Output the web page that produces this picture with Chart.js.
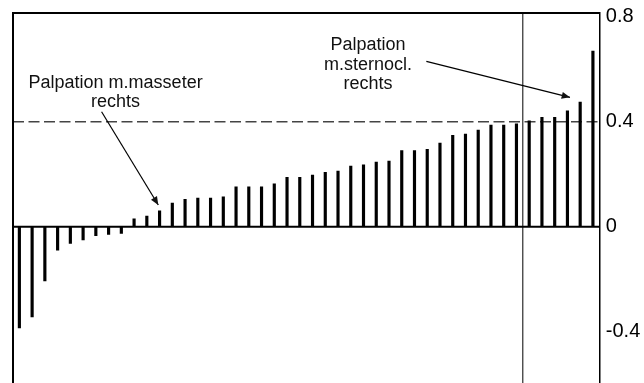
<!DOCTYPE html>
<html lang="de">
<head>
    <meta charset="UTF-8">
    <title>Korrelationen</title>
    <script src="https://cdn.jsdelivr.net/npm/chart.js"></script>
    <style>
        * { margin: 0; padding: 0; box-sizing: border-box; }
        body { background: #fff; width: 644px; height: 383px; overflow: hidden; }
        #wrap { position: relative; width: 644px; height: 383px; }
    </style>
</head>
<body>
    <div id="wrap"><canvas id="chart"></canvas></div>

    <script>
        // sorted values
        const values = [
            -0.385, -0.343, -0.206, -0.089, -0.063, -0.050, -0.034, -0.029, -0.025,
            0.030, 0.041, 0.061, 0.090, 0.104, 0.109, 0.109, 0.114, 0.152, 0.152, 0.152, 0.163,
            0.188, 0.188, 0.197, 0.207, 0.212, 0.231, 0.236, 0.246, 0.250, 0.290, 0.290, 0.295,
            0.319, 0.348, 0.353, 0.368, 0.387, 0.387, 0.392, 0.403, 0.417, 0.417, 0.441, 0.475, 0.669
        ];
        const categories = values.map((v, i) => String(i + 1));
        const yTicks = [-0.4, 0, 0.4, 0.8];
        const yMin = -0.595;
        const yMax = 0.814;
        const threshold = 0.4;       // dashed line
        const splitAfter = 40;       // vertical line after this many items

        // annotations: text lines, anchor (category index, value), arrow from/to
        const notes = [
            { lines: ["Palpation m.masseter", "rechts"], x: 7.55, y: 0.530,
              from: [6.45, 0.438], to: [10.9, 0.083] },
            { lines: ["Palpation", "m.sternocl.", "rechts"], x: 27.35, y: 0.672,
              from: [31.93, 0.630], to: [43.2, 0.493] }
        ];

        const overlay = {
            id: "overlay",
            beforeDatasetsDraw(chart) {
                const { ctx, chartArea: a, scales: { x, y } } = chart;
                ctx.save();
                // dashed threshold line
                ctx.strokeStyle = "#444";
                ctx.lineWidth = 1.5;
                ctx.setLineDash([11, 4.5]);
                ctx.beginPath();
                ctx.moveTo(a.left, y.getPixelForValue(threshold));
                ctx.lineTo(a.right, y.getPixelForValue(threshold));
                ctx.stroke();
                ctx.setLineDash([]);
                // vertical split line
                const xs = (x.getPixelForValue(splitAfter - 1) + x.getPixelForValue(splitAfter)) / 2;
                ctx.strokeStyle = "#000";
                ctx.lineWidth = 1;
                ctx.beginPath();
                ctx.moveTo(xs, a.top);
                ctx.lineTo(xs, a.bottom);
                ctx.stroke();
                ctx.restore();
            },
            afterDatasetsDraw(chart) {
                const { ctx, chartArea: a, scales: { x, y } } = chart;
                ctx.save();
                ctx.strokeStyle = "#000";
                // zero line
                ctx.lineWidth = 2;
                ctx.beginPath();
                ctx.moveTo(a.left, y.getPixelForValue(0));
                ctx.lineTo(a.right, y.getPixelForValue(0));
                ctx.stroke();
                // frame: left + top
                ctx.beginPath();
                ctx.moveTo(a.left, a.bottom + 5);
                ctx.lineTo(a.left, a.top);
                ctx.lineTo(a.right, a.top);
                ctx.stroke();

                // annotations
                ctx.fillStyle = "#111";
                ctx.font = "18px 'Liberation Sans', Arial, sans-serif";
                ctx.textAlign = "center";
                ctx.textBaseline = "alphabetic";
                const x0 = x.getPixelForValue(0);
                const step = x.getPixelForValue(1) - x0;
                notes.forEach(n => {
                    const px = x0 + n.x * step;
                    const py = y.getPixelForValue(n.y);
                    n.lines.forEach((t, i) => ctx.fillText(t, px, py + i * 19.6));

                    const fx = x0 + n.from[0] * step, fy = y.getPixelForValue(n.from[1]);
                    const tx = x0 + n.to[0] * step, ty = y.getPixelForValue(n.to[1]);
                    ctx.lineWidth = 1.2;
                    ctx.beginPath();
                    ctx.moveTo(fx, fy);
                    ctx.lineTo(tx, ty);
                    ctx.stroke();
                    const ang = Math.atan2(ty - fy, tx - fx);
                    ctx.beginPath();
                    ctx.moveTo(tx, ty);
                    ctx.lineTo(tx - 9 * Math.cos(ang - 0.4), ty - 9 * Math.sin(ang - 0.4));
                    ctx.lineTo(tx - 9 * Math.cos(ang + 0.4), ty - 9 * Math.sin(ang + 0.4));
                    ctx.closePath();
                    ctx.fill();
                });
                ctx.restore();
            }
        };

        new Chart(document.getElementById("chart"), {
            type: "bar",
            data: {
                labels: categories,
                datasets: [{
                    data: values,
                    backgroundColor: "#000",
                    borderWidth: 0,
                    barThickness: 2.5
                }]
            },
            options: {
                responsive: true,
                maintainAspectRatio: false,
                animation: false,
                layout: { padding: { left: 13, top: 13, right: 0, bottom: 0 } },
                plugins: { legend: { display: false }, tooltip: { enabled: false } },
                scales: {
                    x: { display: false },
                    y: {
                        position: "right",
                        min: yMin,
                        max: yMax,
                        afterBuildTicks: s => { s.ticks = yTicks.map(v => ({ value: v })); },
                        afterFit: s => {
                            s.width = 44.7;
                            // the label band may run past the plot edges
                            s.paddingTop = 0;
                            s.paddingBottom = 0;
                        },
                        grid: { display: false, drawTicks: false },
                        border: { display: true, color: "#000", width: 1.5 },
                        ticks: {
                            padding: 6.5,
                            color: "#000",
                            font: { family: "'Liberation Sans', Arial, sans-serif", size: 20 },
                            callback: v => String(v)
                        }
                    }
                }
            },
            plugins: [overlay]
        });
    </script>
</body>
</html>
